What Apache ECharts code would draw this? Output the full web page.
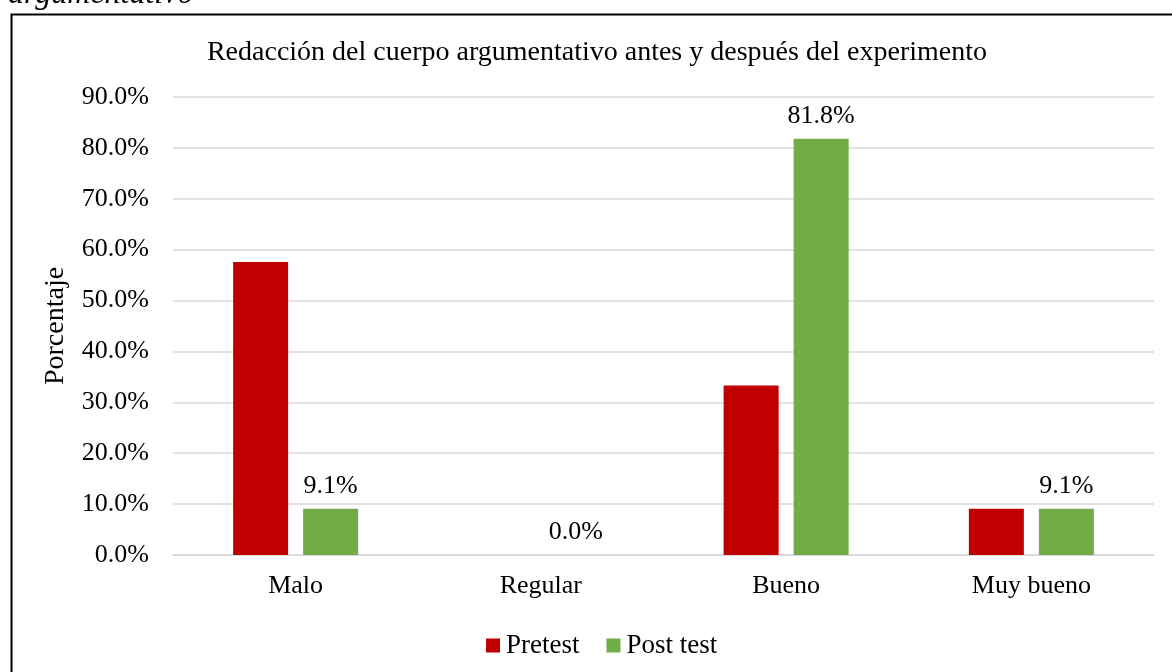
<!DOCTYPE html>
<html>
<head>
<meta charset="utf-8">
<script src="https://cdn.jsdelivr.net/npm/echarts@6/dist/echarts.min.js"></script>
<style>
html,body{margin:0;padding:0;background:#fff;}
#chart{width:1172px;height:672px;}
</style>
</head>
<body>
<div id="chart"></div>
<script>
const categories = ['Malo', 'Regular', 'Bueno', 'Muy bueno'];
const pretest = [57.6, 0.0, 33.3, 9.1];
const posttest = [9.1, 0.0, 81.8, 9.1];
const seriesNames = ['Pretest', 'Post test'];
const titleText = 'Redacción del cuerpo argumentativo antes y después del experimento';
const axisName = 'Porcentaje';
const captionText = 'argumentativo';

const FONT = '"Liberation Serif", "Times New Roman", serif';
const chart = echarts.init(document.getElementById('chart'), null, {renderer: 'canvas'});
const pct = v => v.toFixed(1) + '%';

chart.setOption({
  animation: false,
  textStyle: {fontFamily: FONT, color: '#000'},
  graphic: [
    {type: 'rect', left: 9, top: 12, shape: {x: 0, y: 0, width: 1200, height: 700},
     style: {fill: 'none', stroke: '#000', lineWidth: 2}, z: 0},
    {type: 'text', x: 8, y: -5, style: {text: captionText, font: 'italic 32px ' + FONT,
     fill: '#000', verticalAlign: 'middle'}}
  ],
  title: {
    text: titleText, left: 592, top: 34, textAlign: 'center',
    textStyle: {fontFamily: FONT, fontSize: 28, fontWeight: 'normal', color: '#000'}
  },
  legend: {
    data: seriesNames, left: 481, top: 627, itemWidth: 14, itemHeight: 14, itemGap: 27,
    icon: 'rect',
    textStyle: {fontFamily: FONT, fontSize: 27, color: '#000', padding: [0, 0, 0, 1]}
  },
  grid: {left: 173, right: 18, top: 97, bottom: 117, containLabel: false},
  xAxis: {
    type: 'category', data: categories,
    axisTick: {show: false},
    axisLine: {lineStyle: {color: '#d9d9d9', width: 1.5}},
    axisLabel: {fontFamily: FONT, fontSize: 26, color: '#000', margin: 18}
  },
  yAxis: {
    type: 'value', min: 0, max: 90, interval: 10,
    name: axisName, nameLocation: 'middle', nameRotate: 90, nameGap: 103,
    nameTextStyle: {fontFamily: FONT, fontSize: 28, color: '#000'},
    axisLine: {show: false}, axisTick: {show: false},
    splitLine: {lineStyle: {color: '#d9d9d9', width: 1.5}},
    axisLabel: {fontFamily: FONT, fontSize: 26, color: '#000', margin: 24, formatter: pct}
  },
  series: [
    {name: seriesNames[0], type: 'bar', data: pretest, barWidth: 55, barGap: '27.3%',
     itemStyle: {color: '#C00000'}},
    {name: seriesNames[1], type: 'bar', data: posttest, barWidth: 55, barGap: '27.3%',
     itemStyle: {color: '#70AD47'},
     label: {show: true, position: 'top', distance: 10, fontFamily: FONT, fontSize: 26,
       color: '#000', formatter: p => pct(p.value)}}
  ]
});
</script>
</body>
</html>
